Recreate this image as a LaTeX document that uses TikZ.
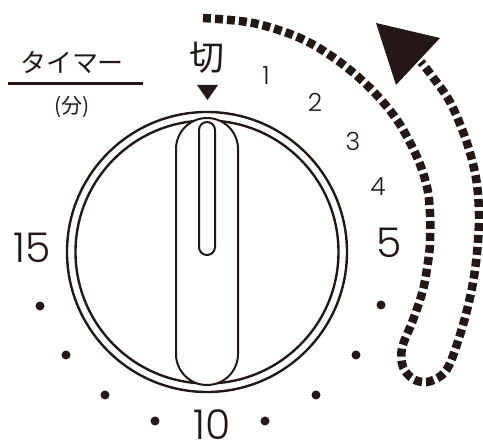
\documentclass[tikz,border=0pt]{standalone}
\usepackage{fontspec}
\setmainfont{Poppins}[UprightFont={* Light}]
\newfontfamily\jp{Noto Sans CJK JP}
\definecolor{inkc}{HTML}{231815}
\begin{document}
\begin{tikzpicture}[x=1pt,y=-1pt,
  ring/.style={draw=inkc, line width=2.4pt},
  knob/.style={draw=inkc, line width=2pt, fill=white},
  dotmark/.style={circle, fill=inkc, minimum size=9pt, inner sep=0pt},
  small/.style={inner sep=0pt, anchor=base, text=inkc, font=\fontsize{25}{25}\selectfont},
  big/.style={inner sep=0pt, anchor=base, text=inkc, font=\fontsize{41}{41}\selectfont},
  turn/.style={draw=inkc, line width=8.5pt, dash pattern=on 8pt off 4pt}]
\useasboundingbox (0,0) rectangle (483,443);
% dial
\coordinate (c) at (207,252);
\draw[ring] (c) circle[radius=140pt];
\draw[ring] (c) circle[radius=131.5pt];
\draw[knob, rounded corners=31pt] (176,118) rectangle (238,385);
\draw[knob, rounded corners=8pt] (199,122) rectangle (215,255);
% labels
\node[inner sep=0pt, text=inkc, font=\jp\fontsize{26}{26}\selectfont] (timer) at (72,63) {タイマー};
\draw[draw=inkc, line width=3pt] (8,84) -- (143,84);
\node[inner sep=0pt, text=inkc, font=\jp\fontsize{21}{21}\selectfont] (fun) at (72,107) {(分)};
\node[inner sep=0pt, text=inkc, font=\jp\fontsize{35}{35}\selectfont] (off) at (207,58) {切};
\fill[inkc] (197,85) -- (218,85) -- (207.5,100) -- cycle;
\node[small] (n1) at (266,85) {1};
\node[small] (n2) at (315,112) {2};
\node[small] (n3) at (353,151) {3};
\node[small] (n4) at (378,196) {4};
\node[big] (n5) at (389,258) {5};
\node[big] (n15) at (32,263) {15};
\node[big] (n10) at (212,440) {10};
% dots
\node[dotmark] (d1) at (40,306) {};
\node[dotmark] (d2) at (66,355) {};
\node[dotmark] (d3) at (105,395) {};
\node[dotmark] (d4) at (155,421) {};
\node[dotmark] (d5) at (265,421) {};
\node[dotmark] (d6) at (316,395) {};
\node[dotmark] (d7) at (356,355) {};
\node[dotmark] (d8) at (381,305) {};
% turning arrow
\draw[turn] plot[smooth, tension=0.55] coordinates {(203,18) (253,23) (300,38) (337,60) (370,88) (397,120) (417,157) (427,187) (430,213) (430,243) (428,262) (423,290) (413,320) (402,348) (403,367) (413,379) (427,382) (442,375) (451,361) (463,325) (472,288) (477,253) (479,215) (476,178) (466,140) (450,102) (432,76) (421,62)};
\fill[inkc] (376,23) -- (440,38) -- (396,85) -- cycle;
\end{tikzpicture}
\end{document}
